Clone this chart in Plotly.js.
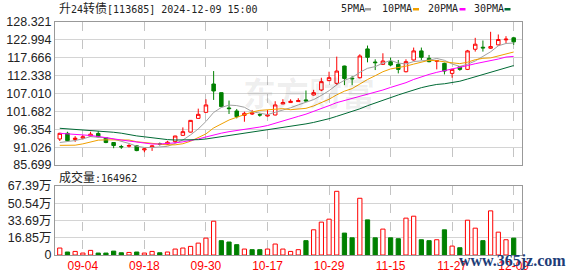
<!DOCTYPE html>
<html>
<head>
<meta charset="utf-8">
<script src="https://cdn.plot.ly/plotly-3.0.1.min.js"></script>
<style>html,body{margin:0;padding:0;background:#fff;}#chart{width:578px;height:276px;}</style>
</head>
<body>
<div id="chart"></div>
<script>
// ---- data ----
const tickPos = [3, 11, 19, 27, 35, 43, 51, 59];
const tickLabels = ['09-04', '09-18', '09-30', '10-17', '10-29', '11-15', '11-27', '12-09'];

const openP = [93.45, 95.14, 93.3, 93.7, 94.3, 95.1, 93.85, 92.4, 91.2, 91.3,
  91.4, 90.2, 91.0, 92.0, 91.9, 92.65, 94.54, 95.5, 99.6, 101.4,
  109.84, 107.26, 102.7, 101.8, 100.5, 100.9, 100.7, 100.3, 100.6, 103.9,
  104.3, 104.6, 105.1, 106.56, 108.05, 110.84, 110.04, 115.2, 111.6, 111.7,
  120.3, 116.4, 115.7, 116.5, 115.7, 113.5, 117.0, 119.7, 117.5, 116.6,
  116.0, 113.0, 115.0, 114.2, 120.2, 120.8, 120.5, 121.5, 123.0, 123.6];
const highP = [95.3, 95.6, 94.3, 94.6, 95.6, 95.8, 94.0, 92.5, 91.7, 91.9,
  91.6, 90.7, 91.6, 92.4, 92.9, 94.4, 96.9, 99.1, 102.5, 105.3,
  113.7, 107.3, 104.9, 102.4, 101.6, 102.1, 101.1, 102.1, 104.7, 105.3,
  105.3, 105.6, 107.9, 108.1, 111.7, 113.5, 118.0, 115.3, 112.2, 118.7,
  121.3, 117.2, 119.0, 117.7, 117.0, 117.2, 120.7, 120.7, 118.5, 117.0,
  116.2, 114.4, 115.2, 120.0, 123.6, 122.8, 125.4, 124.6, 124.1, 123.9];
const lowP = [92.85, 92.9, 92.6, 93.3, 94.1, 93.9, 92.2, 90.7, 90.5, 90.9,
  89.8, 89.5, 89.9, 91.5, 91.7, 92.2, 94.4, 95.4, 99.5, 101.3,
  105.1, 102.9, 100.9, 99.6, 98.6, 100.6, 100.1, 100.1, 100.5, 103.8,
  104.2, 104.5, 104.6, 106.4, 107.7, 110.7, 109.5, 109.5, 109.5, 111.5,
  116.3, 114.0, 115.5, 115.2, 113.0, 113.3, 116.8, 117.0, 116.3, 114.2,
  112.7, 111.7, 113.8, 114.0, 119.5, 119.5, 120.3, 121.3, 122.0, 121.5];
const closeP = [95.14, 92.95, 93.7, 94.1, 94.9, 94.1, 92.4, 91.5, 91.1, 91.5,
  90.0, 90.5, 91.4, 91.9, 92.5, 94.34, 95.63, 99.0, 100.8, 103.6,
  107.76, 103.1, 102.5, 100.1, 101.1, 101.2, 100.6, 100.6, 103.6, 104.3,
  104.7, 104.9, 104.8, 107.26, 110.54, 111.73, 113.7, 111.5, 111.4, 118.2,
  117.8, 116.2, 116.7, 115.5, 114.2, 116.5, 119.7, 117.8, 116.5, 116.8,
  113.7, 114.2, 114.2, 119.7, 121.7, 120.6, 121.0, 123.1, 123.2, 122.4];

const ma5 = [92.4, 92.6, 93.0, 93.5, 94.16, 93.95, 93.84, 93.4, 92.8, 92.12,
  91.3, 90.92, 90.9, 91.06, 91.26, 92.13, 93.15, 94.67, 96.45, 98.67,
  101.36, 102.85, 103.55, 103.41, 102.91, 101.6, 101.1, 100.72, 101.42, 102.06,
  102.76, 103.62, 104.46, 105.19, 106.44, 107.85, 109.61, 110.95, 111.77, 113.31,
  114.52, 115.02, 116.06, 116.88, 116.08, 115.82, 116.52, 116.74, 116.94, 117.46,
  116.9, 115.8, 115.08, 115.72, 116.7, 118.08, 119.44, 121.22, 121.92, 122.06];
const ma10 = [91.55, 91.55, 91.6, 92.0, 92.6, 93.1, 93.2, 93.15, 93.1, 93.14,
  92.63, 92.38, 92.15, 91.93, 91.69, 91.71, 92.04, 92.79, 93.76, 94.97,
  96.74, 98.0, 99.11, 99.93, 100.79, 101.48, 101.98, 102.14, 102.42, 102.49,
  102.18, 102.36, 102.59, 103.31, 104.25, 105.3, 106.61, 107.7, 108.48, 109.87,
  111.18, 112.31, 113.5, 114.33, 114.69, 115.17, 115.77, 116.4, 116.91, 116.77,
  116.36, 116.16, 115.91, 116.33, 117.08, 117.49, 117.62, 118.15, 118.82, 119.38];
const ma20 = [95.14, 95.0, 94.8, 94.6, 94.5, 94.2, 93.8, 93.6, 93.15, 92.85,
  92.55, 92.25, 91.95, 91.95, 92.05, 92.3, 92.6, 93.0, 93.45, 94.05,
  94.68, 95.19, 95.63, 95.93, 96.24, 96.6, 97.01, 97.46, 98.09, 98.73,
  99.46, 100.18, 100.85, 101.62, 102.52, 103.39, 104.29, 104.92, 105.45, 106.18,
  106.68, 107.34, 108.05, 108.82, 109.47, 110.24, 111.19, 112.05, 112.7, 113.32,
  113.77, 114.24, 114.71, 115.33, 115.89, 116.33, 116.7, 117.28, 117.87, 118.08];
const ma30 = [96.64, 96.49, 96.28, 96.13, 95.9, 95.66, 95.54, 95.45, 95.18, 94.7,
  94.37, 94.1, 93.75, 93.45, 93.27, 93.15, 93.15, 93.15, 93.25, 93.45,
  93.8, 94.1, 94.45, 94.8, 95.15, 95.45, 95.8, 96.1, 96.4, 96.86,
  97.18, 97.58, 97.95, 98.39, 98.91, 99.5, 100.21, 100.88, 101.55, 102.44,
  103.37, 104.23, 105.07, 105.86, 106.58, 107.32, 108.12, 108.75, 109.27, 109.71,
  109.91, 110.28, 110.67, 111.32, 112.01, 112.65, 113.33, 114.08, 114.74, 115.34];

// volume in 万 (10k)
const volume = [6.8, 2.9, 3.5, 1.9, 4.5, 1.9, 1.9, 3.8, 2.2, 2.5,
  2.9, 1.9, 3.5, 2.2, 2.9, 5.8, 6.8, 8.4, 11.6, 16.5,
  33.0, 14.0, 12.7, 10.1, 5.8, 5.2, 5.2, 5.8, 10.7, 5.8,
  3.5, 5.2, 14.0, 24.6, 32.1, 35.0, 62.2, 21.4, 16.8, 55.4,
  34.3, 16.8, 25.3, 16.8, 15.9, 36.0, 37.9, 14.9, 14.0, 14.9,
  24.6, 8.7, 7.1, 34.0, 26.2, 14.0, 43.1, 22.3, 14.9, 16.4962];
// 1 = red (up) volume bar, 0 = green (down)
const volUp = [1,0,1,1,1,0,0,0,0,1, 0,1,1,0,1,1,1,1,1,1, 1,0,0,0,1,0,0,1,1,1,
  1,1,0,1,1,1,1,0,0,1, 0,0,1,0,0,1,1,0,0,1, 0,1,0,1,1,0,1,1,1,0];

const priceTicks = [85.699, 91.026, 96.354, 101.682, 107.010, 112.338, 117.666, 122.994, 128.321];
const priceTickText = ['85.699', '91.026', '96.354', '101.682', '107.010', '112.338', '117.666', '122.994', '128.321'];
const volTicks = [0, 16.85, 33.69, 50.54, 67.39];
const volTickText = ['0', '16.85万', '33.69万', '50.54万', '67.39万'];
const lastVolume = '164962';

// ---- drawing ----
const idx = closeP.map((_, i) => i);
const RED = '#ff0000', GREEN = '#008000';

const traces = [
  {type: 'candlestick', x: idx, open: openP, high: highP, low: lowP, close: closeP,
   xaxis: 'x', yaxis: 'y', whiskerwidth: 0,
   increasing: {line: {color: RED, width: 1}, fillcolor: '#ffffff'},
   decreasing: {line: {color: GREEN, width: 1}, fillcolor: GREEN},
   hoverinfo: 'skip'},
  {type: 'scatter', mode: 'lines', x: idx, y: ma5, line: {color: '#a0a0a0', width: 1}, xaxis: 'x', yaxis: 'y'},
  {type: 'scatter', mode: 'lines', x: idx, y: ma10, line: {color: '#f0a000', width: 1}, xaxis: 'x', yaxis: 'y'},
  {type: 'scatter', mode: 'lines', x: idx, y: ma20, line: {color: '#ff00ff', width: 1}, xaxis: 'x', yaxis: 'y'},
  {type: 'scatter', mode: 'lines', x: idx, y: ma30, line: {color: '#006a35', width: 1}, xaxis: 'x', yaxis: 'y'},
  {type: 'bar', x: idx, y: volume, xaxis: 'x2', yaxis: 'y2', width: 0.55,
   marker: {color: volUp.map(u => u ? '#ffffff' : GREEN),
            line: {color: volUp.map(u => u ? RED : GREEN), width: 1}}}
];

const L = 55, R = 56, T = 22, B = 21, W = 578, H = 276;
const pw = W - L - R, ph = H - T - B;
const px = v => (v - L) / pw;
const py = v => (H - B - v) / ph;

const xRange = [-0.62, 60.08];
const gridX = {showgrid: true, gridcolor: '#c4c4c4', griddash: 'dash', gridwidth: 1,
  showline: true, mirror: true, linecolor: '#999', linewidth: 1, zeroline: false,
  ticks: '', tickvals: tickPos, range: xRange, fixedrange: true};
const yFont = {family: 'Liberation Sans, Noto Sans CJK SC', size: 12.5, color: '#222'};

const legendItems = [
  {label: '5PMA', x: 338.7, color: '#a0a0a0', mx: 365},
  {label: '10PMA', x: 379.7, color: '#f0a000', mx: 413},
  {label: '20PMA', x: 425.7, color: '#ff00ff', mx: 459.5},
  {label: '30PMA', x: 472, color: '#006a35', mx: 504.5}
];
const monoFont = {family: 'DejaVu Sans Mono, Noto Sans CJK SC', size: 10, color: '#222'};

const annotations = [
  {xref: 'paper', yref: 'paper', x: px(57), y: py(9), xanchor: 'left', yanchor: 'middle', showarrow: false,
   text: '<span style="font-size:12px">升</span>24<span style="font-size:12px">转债</span>[113685] 2024-12-09 15:00', font: monoFont},
  {xref: 'paper', yref: 'paper', x: px(57), y: py(177.5), xanchor: 'left', yanchor: 'middle', showarrow: false,
   text: '<span style="font-size:12px">成交量</span>:' + lastVolume, font: monoFont},
  {xref: 'paper', yref: 'paper', x: px(309), y: py(92), xanchor: 'center', yanchor: 'middle', showarrow: false,
   text: '<b>东方财富</b>', font: {family: 'Noto Sans CJK SC', size: 33, color: 'rgba(0,0,0,0.07)'}},
  {xref: 'paper', yref: 'paper', x: px(512), y: py(261), xanchor: 'center', yanchor: 'middle', showarrow: false,
   text: '<b>www.365jz.com</b>', font: {family: 'Liberation Serif', size: 16, color: '#1d3d78'}}
];
const shapes = [];
legendItems.forEach(it => {
  annotations.push({xref: 'paper', yref: 'paper', x: px(it.x), y: py(9), xanchor: 'left', yanchor: 'middle',
    showarrow: false, text: it.label, font: monoFont});
  shapes.push({type: 'rect', xref: 'paper', yref: 'paper', x0: px(it.mx), x1: px(it.mx + 6),
    y0: py(10.5), y1: py(8), fillcolor: it.color, line: {width: 0}});
});

const layout = {
  width: W, height: H,
  margin: {l: L, r: R, t: T, b: B, pad: 0},
  paper_bgcolor: '#ffffff', plot_bgcolor: '#ffffff',
  showlegend: false, hovermode: false, dragmode: false,
  boxgap: 0.35,
  xaxis: Object.assign({}, gridX, {domain: [0, 1], anchor: 'y', showticklabels: false, rangeslider: {visible: false}}),
  xaxis2: Object.assign({}, gridX, {domain: [0, 1], anchor: 'y2', ticktext: tickLabels,
    tickfont: {family: 'Liberation Sans', size: 12, color: '#ff0000'}}),
  yaxis: {domain: [py(165), 1], anchor: 'x', range: [priceTicks[0], priceTicks[priceTicks.length - 1]],
    tickvals: priceTicks, ticktext: priceTickText, tickfont: yFont,
    showgrid: true, gridcolor: '#d4d4d4', gridwidth: 1, showline: true, mirror: true, linecolor: '#999',
    zeroline: false, ticks: '', fixedrange: true},
  yaxis2: {domain: [0, py(186)], anchor: 'x2', range: [0, 67.39],
    tickvals: volTicks, ticktext: volTickText, tickfont: yFont,
    showgrid: true, gridcolor: '#d4d4d4', gridwidth: 1, showline: true, mirror: true, linecolor: '#999',
    zeroline: false, ticks: '', fixedrange: true},
  annotations: annotations,
  shapes: shapes
};

Plotly.newPlot('chart', traces, layout, {staticPlot: true, displayModeBar: false});
</script>
</body>
</html>
